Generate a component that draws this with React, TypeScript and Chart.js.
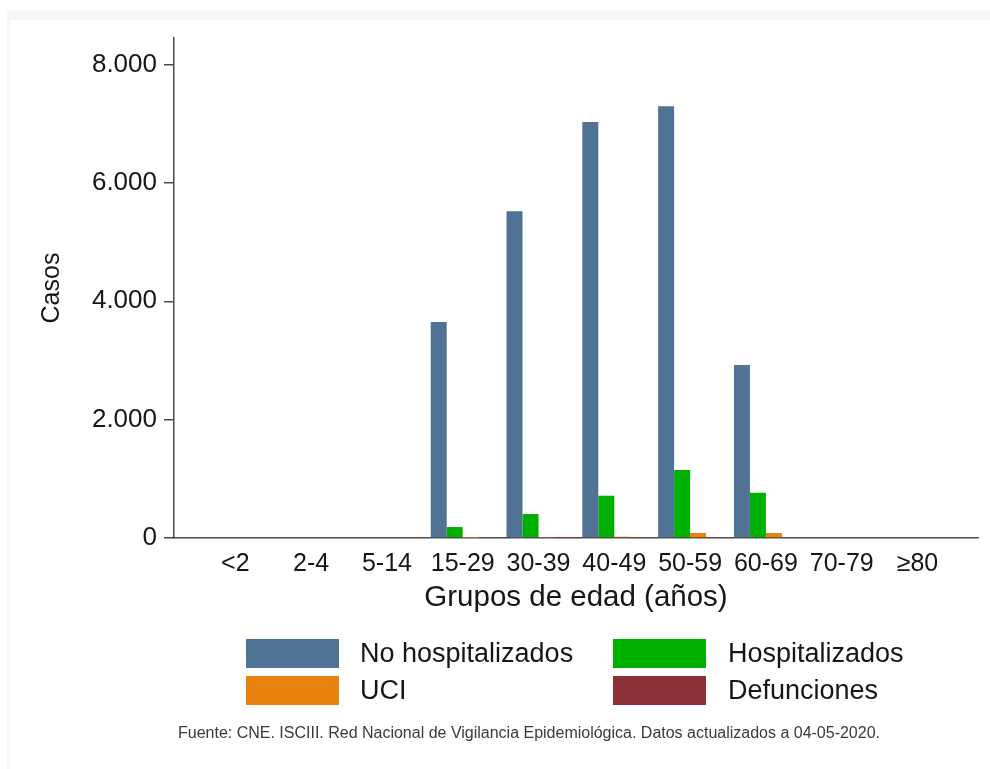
import React, { useEffect, useRef } from 'react';
import { Chart, registerables } from 'chart.js';

Chart.register(...registerables);

const FONT = '"Liberation Sans", Arial, Helvetica, sans-serif';
const TEXT = '#161616';

const categories = ['<2', '2-4', '5-14', '15-29', '30-39', '40-49', '50-59', '60-69', '70-79', '≥80'];
const noHospitalizados = [0, 0, 0, 3650, 5520, 7030, 7295, 2925, 0, 0];
const hospitalizados = [0, 0, 0, 185, 405, 715, 1150, 765, 0, 0];
const uci = [0, 0, 0, 3, 8, 22, 85, 85, 0, 0];
const defunciones = [0, 0, 0, 0, 1, 2, 4, 6, 0, 0];
const yTicks = [0, 2000, 4000, 6000, 8000];
const seriesNames = ['No hospitalizados', 'Hospitalizados', 'UCI', 'Defunciones'];
const seriesColors = ['#4f7295', '#00b000', '#e8820c', '#8c3038'];
const xTitle = 'Grupos de edad (años)';
const yTitle = 'Casos';
const sourceNote = 'Fuente: CNE. ISCIII. Red Nacional de Vigilancia Epidemiológica. Datos actualizados a 04-05-2020.';

const formatThousands = (v: number) => String(Math.round(v)).replace(/\B(?=(\d{3})+(?!\d))/g, '.');

const frameAndLegend = {
  id: 'frameAndLegend',
  beforeDraw(chart: any) {
    const ctx = chart.ctx;
    ctx.save();
    ctx.fillStyle = '#ffffff';
    ctx.fillRect(0, 0, chart.width, chart.height);
    ctx.fillStyle = '#f7f7f7';
    ctx.fillRect(7, 11, chart.width - 7, 9);
    ctx.fillRect(7, 11, 3, chart.height - 11);
    ctx.restore();
  },
  afterDraw(chart: any) {
    const ctx = chart.ctx;
    ctx.save();
    const colX = [246, 613];
    const rowY = [639, 676];
    chart.data.datasets.forEach((ds: any, i: number) => {
      const bx = colX[i % 2];
      const by = rowY[Math.floor(i / 2)];
      ctx.fillStyle = ds.backgroundColor;
      ctx.fillRect(bx, by, 93, 29);
      ctx.fillStyle = TEXT;
      ctx.font = `27px ${FONT}`;
      ctx.textBaseline = 'middle';
      ctx.textAlign = 'left';
      ctx.fillText(ds.label, i % 2 === 0 ? 360 : 728, by + 16);
    });
    ctx.font = `16px ${FONT}`;
    ctx.fillStyle = '#3a3a3a';
    ctx.textAlign = 'center';
    ctx.textBaseline = 'middle';
    ctx.fillText(sourceNote, 529, 734, 702);
    ctx.restore();
  },
};

export default function App() {
  const ref = useRef<HTMLCanvasElement | null>(null);

  useEffect(() => {
    if (!ref.current) return;
    const series = [noHospitalizados, hospitalizados, uci, defunciones];
    const chart = new Chart(ref.current, {
      type: 'bar',
      data: {
        datasets: series.map((arr, k) => ({
          label: seriesNames[k],
          data: arr.map((v, i) => ({ x: i, y: v })),
          backgroundColor: seriesColors[k],
          borderWidth: 0,
          categoryPercentage: 0.844,
          barPercentage: 1,
        })),
      },
      options: {
        responsive: false,
        animation: false,
        devicePixelRatio: 1,
        layout: { padding: { left: 0, right: 12, top: 38, bottom: 151 } },
        plugins: { legend: { display: false }, tooltip: { enabled: false } },
        scales: {
          x: {
            type: 'linear',
            min: -0.809,
            max: 9.798,
            offset: false,
            grid: { display: false },
            border: { display: true, color: '#4a4a4a', width: 1.5 },
            ticks: {
              autoSkip: false,
              maxRotation: 0,
              minRotation: 0,
              padding: 3,
              color: TEXT,
              font: { size: 25, family: FONT },
              callback: (v: any) => categories[v as number] ?? '',
            },
            afterBuildTicks: (s: any) => {
              s.ticks = categories.map((_, i) => ({ value: i }));
            },
            afterFit: (s: any) => {
              s.height = 80;
            },
            title: {
              display: true,
              text: xTitle,
              color: TEXT,
              font: { size: 29.5, family: FONT },
              padding: { top: 0, bottom: 2 },
            },
          },
          y: {
            type: 'linear',
            min: 0,
            max: 8450,
            grid: {
              display: true,
              drawOnChartArea: false,
              drawTicks: true,
              tickLength: 10,
              color: '#4a4a4a',
              lineWidth: 1.5,
            },
            border: { display: true, color: '#4a4a4a', width: 1.5 },
            ticks: {
              padding: 7,
              color: TEXT,
              font: { size: 26, family: FONT },
              callback: (v: any) => formatThousands(Number(v)),
            },
            afterBuildTicks: (s: any) => {
              s.ticks = yTicks.map((v) => ({ value: v }));
            },
            afterFit: (s: any) => {
              s.width = 174;
            },
            title: {
              display: true,
              text: yTitle,
              color: TEXT,
              font: { size: 25, family: FONT },
              padding: { top: 37, bottom: 0 },
            },
          },
        },
      },
      plugins: [frameAndLegend],
    });
    return () => chart.destroy();
  }, []);

  return (
    <div style={{ position: 'absolute', left: 0, top: 0, width: 990, height: 769, background: '#fff' }}>
      <canvas ref={ref} width={990} height={769} style={{ width: 990, height: 769, display: 'block' }} />
    </div>
  );
}
